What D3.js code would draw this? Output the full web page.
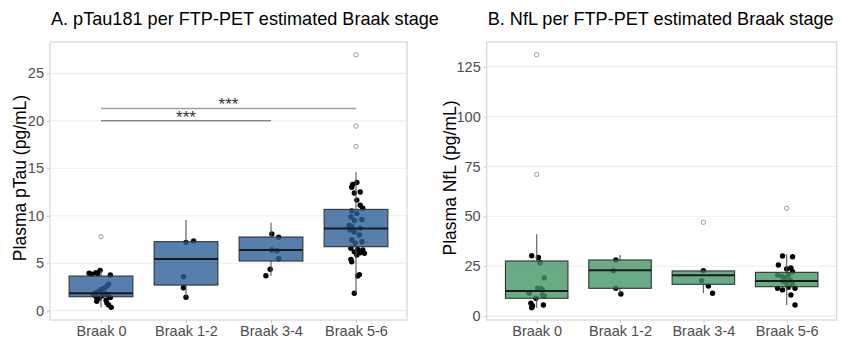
<!DOCTYPE html>
<html>
<head>
<meta charset="utf-8">
<script src="https://cdn.jsdelivr.net/npm/d3@7"></script>
<style>
  body { margin: 0; background: #fff; }
  text { font-family: 'Liberation Sans', Arial, sans-serif; }
</style>
</head>
<body>
<div id="chart"></div>
<script>
const categories = ['Braak 0', 'Braak 1-2', 'Braak 3-4', 'Braak 5-6'];

// A. pTau181 (pg/mL) - box stats
const tauQ1 = [1.47, 2.7, 5.23, 6.74];
const tauMedian = [1.83, 5.44, 6.39, 8.67];
const tauQ3 = [3.65, 7.27, 7.76, 10.67];
const tauLow = [0.35, 1.41, 3.68, 1.8];
const tauHigh = [4.25, 9.55, 9.26, 14.6];
const tauOutliers = [[7.8], [], [], [17.3, 19.45, 26.95]];

// jittered observations (value, horizontal jitter as share of category step)
const tauPoints = [
  [4.25, 4.0, 3.95, 3.9, 3.85, 3.76, 2.8, 2.6, 2.4, 2.2, 2.0, 1.85, 1.8, 1.7, 1.65, 1.55, 1.5, 1.4, 1.3, 1.1, 1.0, 0.8, 0.6, 0.35],
  [7.2, 7.34, 3.58, 2.42, 1.41],
  [8.07, 7.73, 6.39, 6.32, 5.47, 4.36, 3.68],
  [13.5, 13.3, 13.0, 12.5, 12.4, 11.65, 11.1, 10.8, 10.5, 10.25, 9.9, 9.6, 9.5, 9.0, 8.85, 8.7, 8.5, 8.3, 7.97, 7.44, 7.26, 7.1, 6.57, 6.46, 6.4, 6.2, 6.1, 6.04, 5.86, 5.4, 5.15, 3.8, 3.65, 1.83],
];
const tauJitter = [
  [-0.01, -0.06, -0.14, -0.04, -0.11, 0.11, 0.09, 0.07, 0.04, 0, -0.04, -0.07, 0.05, -0.09, 0.08, 0.01, -0.06, 0.11, -0.02, 0.06, -0.05, 0.07, 0.09, 0.12],
  [0, 0.09, -0.03, -0.03, 0],
  [0.01, 0.09, 0.01, 0.07, 0.09, -0.01, -0.06],
  [0.01, -0.04, -0.05, 0.05, -0.02, 0.01, 0.05, 0.08, -0.05, 0.01, -0.06, 0.07, -0.02, -0.08, -0.05, 0.05, -0.07, -0.02, 0.04, -0.05, 0.07, -0.01, -0.06, 0.02, 0.08, -0.02, 0.05, 0.1, 0.01, -0.06, -0.05, 0.04, 0.02, -0.02],
];
const tauTicks = [0, 5, 10, 15, 20, 25];
const tauSignif = [
  { from: 0, to: 2, y: 20.0, label: '***' },
  { from: 0, to: 3, y: 21.3, label: '***' },
];

// B. NfL (pg/mL)
const nflQ1 = [8.9, 13.9, 15.9, 14.7];
const nflMedian = [12.5, 22.9, 20.4, 17.6];
const nflQ3 = [27.6, 28.1, 22.6, 21.9];
const nflLow = [4.2, 11.0, 11.4, 5.5];
const nflHigh = [41, 30.6, 22.7, 31];
const nflOutliers = [[131, 71], [], [47], [54]];
const nflPoints = [
  [30.2, 29.4, 26.7, 19.2, 13.9, 13.9, 13.0, 11.4, 10.5, 10.0, 8.9, 6.4, 5.2, 5.5, 4.2],
  [28.1, 22.7, 13.9, 11.0],
  [22.7, 17.7, 15.0, 11.4],
  [30.1, 29.7, 25.6, 23.6, 24.1, 22.2, 20.6, 19.9, 19.2, 20.6, 18.1, 17.3, 16.4, 15.8, 13.9, 13.1, 14.4, 13.9, 10.5, 5.5],
];
const nflJitter = [
  [-0.06, 0.02, 0.04, 0.09, 0.01, 0.05, 0.07, -0.09, 0.07, 0.09, -0.01, -0.07, -0.05, 0.08, -0.06],
  [-0.05, -0.08, -0.05, 0.01],
  [0, -0.02, 0.06, 0.11],
  [-0.05, 0.07, -0.1, 0, 0.05, 0.07, -0.11, -0.06, -0.02, 0.02, 0.04, -0.04, 0, 0.07, -0.11, -0.05, 0.02, 0.1, 0.05, 0.1],
];
const nflTicks = [0, 25, 50, 75, 100, 125];

const svg = d3.select('#chart')
  .append('svg')
    .attr('width', 841)
    .attr('height', 341);

function drawPanel(opts) {
  const { left, right, top, bottom } = opts;
  const g = svg.append('g');

  const x = d3.scalePoint().domain(categories).range([left, right]).padding(0.6);
  const y = d3.scaleLinear().domain(opts.yDomain).range([bottom, top]);
  const step = x.step();
  const boxW = step * 0.75;

  // title
  g.append('text')
    .attr('x', left + 1)
    .attr('y', 25)
    .attr('font-size', 18.1)
    .attr('fill', '#000')
    .text(opts.title);

  // grid
  g.append('g')
    .selectAll('line')
    .data(opts.ticks)
    .enter()
    .append('line')
      .attr('x1', left)
      .attr('x2', right)
      .attr('y1', d => y(d))
      .attr('y2', d => y(d))
      .attr('stroke', '#ebebeb')
      .attr('stroke-width', 1);

  // axes
  const yAxis = g.append('g')
    .attr('transform', `translate(${left},0)`)
    .call(d3.axisLeft(y).tickValues(opts.ticks).tickSize(3).tickPadding(3));
  const xAxis = g.append('g')
    .attr('transform', `translate(0,${bottom})`)
    .call(d3.axisBottom(x).tickSize(3).tickPadding(3));
  [yAxis, xAxis].forEach(ax => {
    ax.select('.domain').remove();
    ax.selectAll('line').attr('stroke', '#c4c4c4');
    ax.selectAll('text')
      .attr('fill', '#4d4d4d')
      .attr('font-size', 14.5)
      .attr('font-family', "'Liberation Sans', Arial, sans-serif");
  });

  // y title
  g.append('text')
    .attr('transform', `translate(${opts.yTitleX},${(top + bottom) / 2 - 3}) rotate(-90)`)
    .attr('text-anchor', 'middle')
    .attr('font-size', 17.5)
    .attr('fill', '#000')
    .text(opts.yTitle);

  // jittered points, drawn under the boxes
  const pts = [];
  opts.points.forEach((vals, i) => {
    vals.forEach((v, j) => pts.push({ cat: categories[i], v, jit: opts.jitter[i][j] }));
  });
  g.append('g')
    .selectAll('circle')
    .data(pts)
    .enter()
    .append('circle')
      .attr('cx', d => x(d.cat) + d.jit * step)
      .attr('cy', d => y(d.v))
      .attr('r', 2.7)
      .attr('fill', '#000');

  const boxes = categories.map((cat, i) => ({
    cat,
    q1: opts.q1[i],
    med: opts.median[i],
    q3: opts.q3[i],
    lo: opts.low[i],
    hi: opts.high[i],
    out: opts.outliers[i],
  }));

  const bg = g.append('g').selectAll('g').data(boxes).enter().append('g');
  bg.append('line')
    .attr('x1', d => x(d.cat))
    .attr('x2', d => x(d.cat))
    .attr('y1', d => y(d.hi))
    .attr('y2', d => y(d.q3))
    .attr('stroke', '#555')
    .attr('stroke-width', 1.1);
  bg.append('line')
    .attr('x1', d => x(d.cat))
    .attr('x2', d => x(d.cat))
    .attr('y1', d => y(d.q1))
    .attr('y2', d => y(d.lo))
    .attr('stroke', '#555')
    .attr('stroke-width', 1.1);
  bg.append('rect')
    .attr('x', d => x(d.cat) - boxW / 2)
    .attr('width', boxW)
    .attr('y', d => y(d.q3))
    .attr('height', d => y(d.q1) - y(d.q3))
    .attr('fill', opts.fill)
    .attr('fill-opacity', 0.8)
    .attr('stroke', '#333')
    .attr('stroke-width', 1.1);
  bg.append('line')
    .attr('x1', d => x(d.cat) - boxW / 2)
    .attr('x2', d => x(d.cat) + boxW / 2)
    .attr('y1', d => y(d.med))
    .attr('y2', d => y(d.med))
    .attr('stroke', '#1a1a1a')
    .attr('stroke-width', 2);
  bg.selectAll('circle')
    .data(d => d.out.map(v => ({ cat: d.cat, v })))
    .enter()
    .append('circle')
      .attr('cx', d => x(d.cat))
      .attr('cy', d => y(d.v))
      .attr('r', 2.2)
      .attr('fill', 'none')
      .attr('stroke', '#9a9a9a')
      .attr('stroke-width', 1);

  // significance brackets
  (opts.signif || []).forEach((s, i) => {
    const x1 = x(categories[s.from]);
    const x2 = x(categories[s.to]);
    g.append('line')
      .attr('x1', x1)
      .attr('x2', x2)
      .attr('y1', y(s.y))
      .attr('y2', y(s.y))
      .attr('stroke', i === 0 ? '#555' : '#a0a0a0')
      .attr('stroke-width', i === 0 ? 1 : 1.5);
    g.append('text')
      .attr('x', (x1 + x2) / 2)
      .attr('y', y(s.y) + 2)
      .attr('text-anchor', 'middle')
      .attr('font-size', 17)
      .attr('fill', '#333')
      .text(s.label);
  });

  // panel border
  g.append('rect')
    .attr('x', left)
    .attr('y', top)
    .attr('width', right - left)
    .attr('height', bottom - top)
    .attr('fill', 'none')
    .attr('stroke', '#d6d6d6')
    .attr('stroke-width', 1.2);
}

drawPanel({
  left: 50, right: 407, top: 42, bottom: 320,
  yDomain: [-0.98, 28.3],
  ticks: tauTicks,
  title: 'A. pTau181 per FTP-PET estimated Braak stage',
  yTitle: 'Plasma pTau (pg/mL)',
  yTitleX: 26,
  fill: '#2d5f97',
  q1: tauQ1, median: tauMedian, q3: tauQ3, low: tauLow, high: tauHigh,
  outliers: tauOutliers,
  points: tauPoints, jitter: tauJitter,
  signif: tauSignif,
});

drawPanel({
  left: 486.7, right: 836.7, top: 42, bottom: 320,
  yDomain: [-2, 137.4],
  ticks: nflTicks,
  title: 'B. NfL per FTP-PET estimated Braak stage',
  yTitle: 'Plasma NfL (pg/mL)',
  yTitleX: 456,
  fill: '#449665',
  q1: nflQ1, median: nflMedian, q3: nflQ3, low: nflLow, high: nflHigh,
  outliers: nflOutliers,
  points: nflPoints, jitter: nflJitter,
});
</script>
</body>
</html>
